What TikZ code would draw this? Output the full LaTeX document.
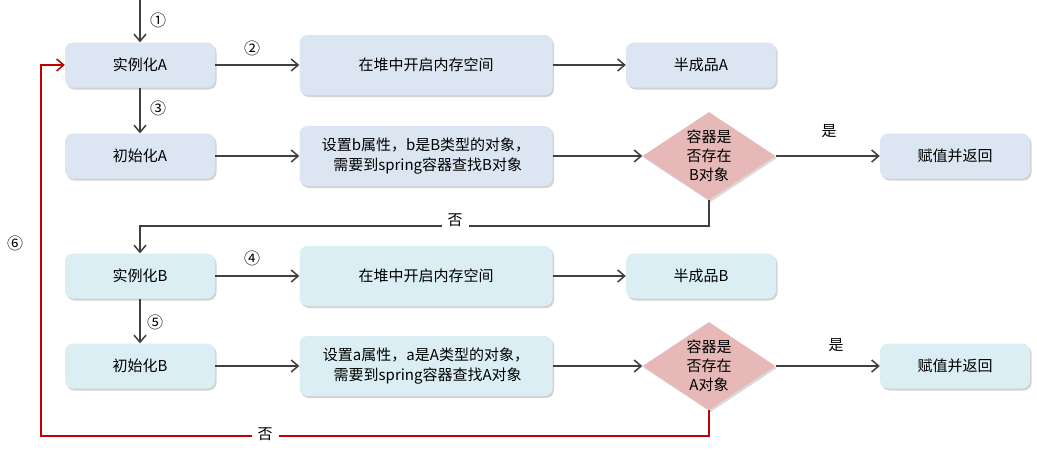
\documentclass[tikz,border=0pt]{standalone}
\usepackage{fontspec}
\setmainfont{Noto Sans CJK SC}
\usetikzlibrary{shapes.geometric,arrows.meta,shadows}
\definecolor{boxA}{HTML}{DCE6F2}
\definecolor{boxB}{HTML}{DAEEF3}
\definecolor{dia}{HTML}{E6B9B8}
\definecolor{arr}{HTML}{404040}
\definecolor{redl}{HTML}{C00000}
\tikzset{
  box/.style={rounded corners=8pt, inner sep=0pt, align=center, font=\fontsize{15}{20}\selectfont,
    drop shadow={shadow xshift=1.5pt, shadow yshift=-2pt, opacity=0.35, fill=gray}},
  small/.style={box, minimum width=150pt, minimum height=45pt},
  big/.style={box, minimum width=253pt, minimum height=60pt},
  diam/.style={diamond, aspect=1.5, fill=dia, minimum width=133pt, minimum height=88pt, inner sep=0pt,
    align=center, font=\fontsize{15}{19}\selectfont,
    drop shadow={shadow xshift=1.5pt, shadow yshift=-2pt, opacity=0.3, fill=gray}},
  conn/.style={draw=arr, line width=1.8pt, -{Straight Barb[length=7pt,width=12pt,line width=1.5pt]}},
  rconn/.style={draw=redl, line width=1.8pt, -{Straight Barb[length=7pt,width=12pt,line width=1.5pt]}},
  lbl/.style={font=\fontsize{15}{17}\selectfont, text=black},
  num/.style={font=\fontsize{16}{18}\selectfont, text=black},
}
\begin{document}
\begin{tikzpicture}[x=1pt,y=-1pt]
\useasboundingbox (0,0) rectangle (1037,453);
% A row
\node[small, fill=boxA] (ia) at (140,65) {实例化A};
\node[big, fill=boxA] (ha) at (426,65) {在堆中开启内存空间};
\node[small, fill=boxA] (ba) at (701,65) {半成品A};
\node[small, fill=boxA] (ca) at (140,156) {初始化A};
\node[big, fill=boxA] (sa) at (426,156) {设置b属性，b是B类型的对象，\\\ 需要到spring容器查找B对象};
\node[diam] (da) at (709,156) {容器是\\否存在\\B对象};
\node[small, fill=boxA] (ra) at (955,156) {赋值并返回};
% B rows
\node[small, fill=boxB] (ib) at (140,276) {实例化B};
\node[big, fill=boxB] (hb) at (426,276) {在堆中开启内存空间};
\node[small, fill=boxB] (bb) at (701,276) {半成品B};
\node[small, fill=boxB] (cb) at (140,366) {初始化B};
\node[big, fill=boxB] (sb) at (426,366) {设置a属性，a是A类型的对象，\\\ 需要到spring容器查找A对象};
\node[diam] (db) at (709,366) {容器是\\否存在\\A对象};
\node[small, fill=boxB] (rb) at (955,366) {赋值并返回};

\coordinate (start) at (140,0);
\draw[conn] (start) -- (ia);
\draw[conn] (ia) -- (ha);
\draw[conn] (ha) -- (ba);
\draw[conn] (ia) -- (ca);
\draw[conn] (ca) -- (sa);
\draw[conn] (sa) -- (da);
\draw[conn] (da) -- (ra);
\draw[conn] (da.south) -- ++(0,26) -| (ib.north);
\draw[conn] (ib) -- (hb);
\draw[conn] (hb) -- (bb);
\draw[conn] (ib) -- (cb);
\draw[conn] (cb) -- (sb);
\draw[conn] (sb) -- (db);
\draw[conn] (db) -- (rb);
\coordinate (lc) at (41,436);
\draw[rconn] (db.south) |- (lc) |- (ia.west);

\node[num] (n1) at (158,20) {①};
\node[num] (n2) at (252,48) {②};
\node[num] (n3) at (158,108) {③};
\node[num] (n4) at (252,258) {④};
\node[num] (n5) at (155,322) {⑤};
\node[num] (n6) at (15,243) {⑥};
\node[lbl] (y1) at (829,131) {是};
\node[lbl] (y2) at (836,345) {是};
\node[lbl, fill=white, inner xsep=6pt] (no1) at (455,220) {否};
\node[lbl, fill=white, inner xsep=6pt] (no2) at (265,434) {否};
\end{tikzpicture}
\end{document}
